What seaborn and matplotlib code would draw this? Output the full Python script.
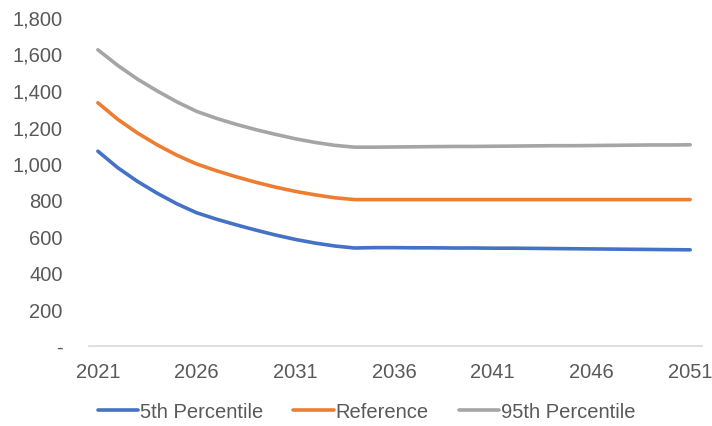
import matplotlib
matplotlib.use("Agg")
import matplotlib.pyplot as plt
import seaborn as sns
import pandas as pd

years = list(range(2021, 2052))
p5 = [1065, 975, 900, 835, 777, 728, 693, 662, 633, 606, 582, 562, 546, 535,
      537, 537, 536, 536, 535, 535, 534, 534, 533, 532, 531, 530, 529, 528, 527, 526, 525]
ref = [1330, 1240, 1165, 1100, 1043, 995, 958, 925, 895, 868, 845, 826, 810, 800,
       800, 800, 800, 800, 800, 800, 800, 800, 800, 800, 800, 800, 800, 800, 800, 800, 800]
p95 = [1620, 1535, 1460, 1395, 1335, 1283, 1245, 1212, 1183, 1157, 1133, 1113, 1097, 1087,
       1087, 1088, 1089, 1090, 1091, 1091, 1092, 1093, 1094, 1095, 1095, 1096, 1097, 1098, 1099, 1099, 1100]
series_names = ["5th Percentile", "Reference", "95th Percentile"]
colors = ["#4472C4", "#ED7D31", "#A5A5A5"]
xticks = [2021, 2026, 2031, 2036, 2041, 2046, 2051]
yticks = [0, 200, 400, 600, 800, 1000, 1200, 1400, 1600, 1800]
ytick_labels = ["-", "200", "400", "600", "800", "1,000", "1,200", "1,400", "1,600", "1,800"]

df = pd.DataFrame({
    "year": years * 3,
    "value": p5 + ref + p95,
    "series": [series_names[0]] * len(years) + [series_names[1]] * len(years) + [series_names[2]] * len(years),
})

sns.set_theme(style="white")
plt.rcParams["font.family"] = ["Liberation Sans", "DejaVu Sans"]

FS = 14.5
fig = plt.figure(figsize=(7.12, 4.27), dpi=100)
ax = fig.add_axes([0.125, 0.188, 0.861, 0.770])
sns.lineplot(data=df, x="year", y="value", hue="series", palette=colors,
             hue_order=series_names, linewidth=2.6, ax=ax, legend=True)

ax.set_xlim(2020.55, 2051.6)
ax.set_ylim(0, 1800)
ax.set_xticks(xticks)
ax.set_xticklabels([str(t) for t in xticks])
ax.set_yticks(yticks)
ax.set_yticklabels(ytick_labels)
ax.set_xlabel("")
ax.set_ylabel("")
for s in ["top", "right", "left"]:
    ax.spines[s].set_visible(False)
ax.spines["bottom"].set_color("#D9D9D9")
ax.spines["bottom"].set_linewidth(1.2)
ax.tick_params(axis="both", length=0, labelsize=FS, colors="#595959")
ax.tick_params(axis="x", pad=12)
ax.tick_params(axis="y", pad=19)

handles, labels = ax.get_legend_handles_labels()
ax.legend(handles, labels, loc="center", bbox_to_anchor=(0.515, 0.035),
          bbox_transform=fig.transFigure,
          ncol=3, frameon=False, fontsize=FS, handlelength=2.0, handletextpad=0.1,
          columnspacing=1.5, labelcolor="#595959", borderpad=0, borderaxespad=0)

fig.savefig("out.png", dpi=100)
